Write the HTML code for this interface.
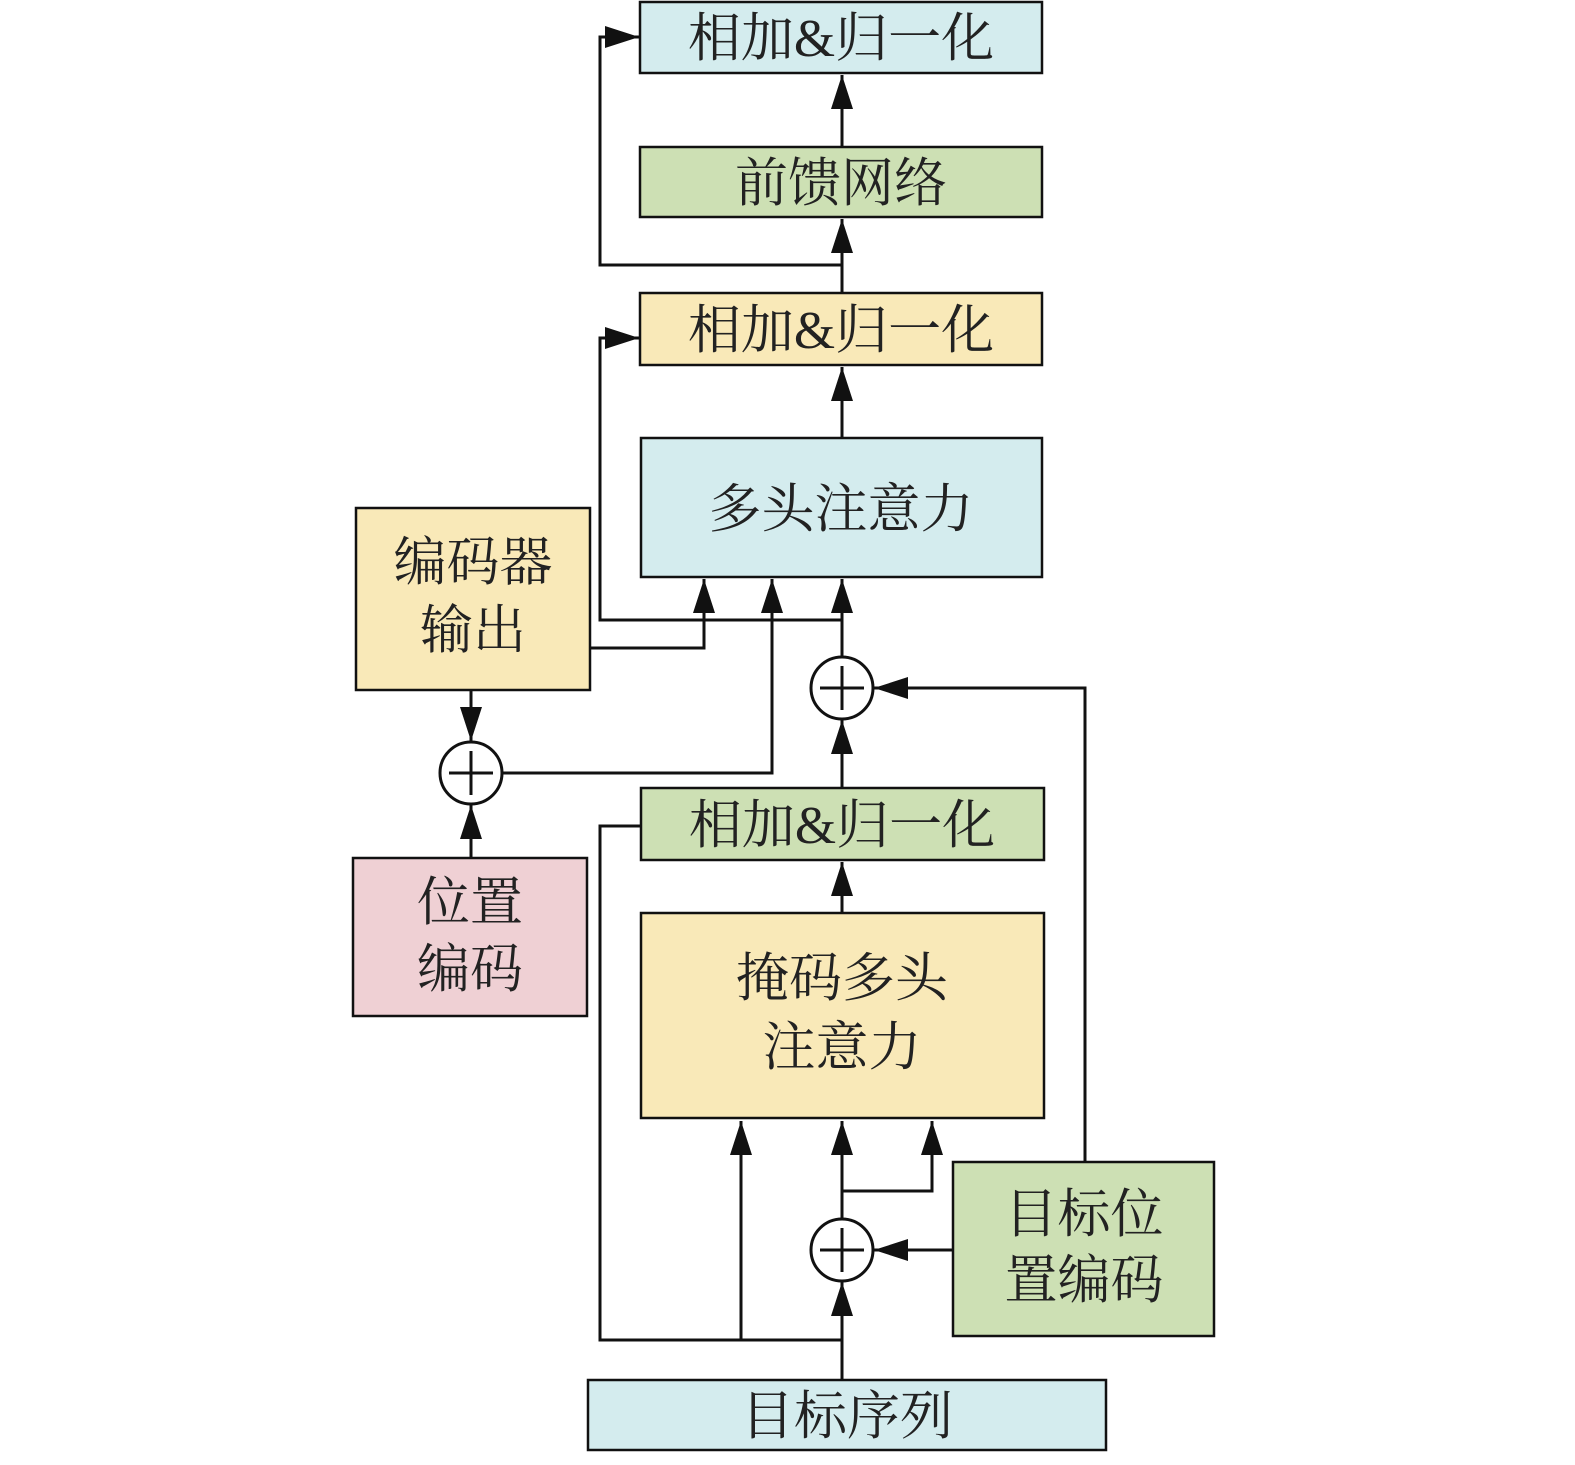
<!DOCTYPE html>
<html><head><meta charset="utf-8"><style>
html,body{margin:0;padding:0;background:#fff}
svg text{font-family:"Liberation Serif","Noto Serif CJK SC",serif;fill:#222;text-anchor:middle}
</style></head><body>
<svg width="1575" height="1460" viewBox="0 0 1575 1460" xmlns="http://www.w3.org/2000/svg">
<defs>
<marker id="a" markerUnits="userSpaceOnUse" markerWidth="36" markerHeight="24" refX="34" refY="11" orient="auto">
<path d="M0,0 L34,11 L0,22 Z" fill="#111"/>
</marker>
</defs>
<g stroke="#111" stroke-width="2.5">
<rect x="640" y="2" width="402" height="71" fill="#d4ecee"/>
<rect x="640" y="147" width="402" height="70" fill="#cde0b4"/>
<rect x="640" y="293" width="402" height="72" fill="#f9e9b8"/>
<rect x="641" y="438" width="401" height="139" fill="#d4ecee"/>
<rect x="356" y="508" width="234" height="182" fill="#f9e9b8"/>
<rect x="353" y="858" width="234" height="158" fill="#efd0d4"/>
<rect x="641" y="788" width="403" height="72" fill="#cde0b4"/>
<rect x="641" y="913" width="403" height="205" fill="#f9e9b8"/>
<rect x="953" y="1162" width="261" height="174" fill="#cde0b4"/>
<rect x="588" y="1380" width="518" height="70" fill="#d4ecee"/>
</g>
<g stroke="#111" stroke-width="3" fill="none">
<line x1="842" y1="1380" x2="842" y2="1282" marker-end="url(#a)"/>
<polyline points="842,1340 600,1340 600,826 641,826"/>
<line x1="741" y1="1340" x2="741" y2="1121" marker-end="url(#a)"/>
<line x1="842" y1="1219" x2="842" y2="1121" marker-end="url(#a)"/>
<polyline points="842,1191 932,1191 932,1121" marker-end="url(#a)"/>
<line x1="953" y1="1250" x2="874" y2="1250" marker-end="url(#a)"/>
<polyline points="1085,1162 1085,688 874,688" marker-end="url(#a)"/>
<line x1="842" y1="913" x2="842" y2="862" marker-end="url(#a)"/>
<line x1="842" y1="788" x2="842" y2="720" marker-end="url(#a)"/>
<line x1="842" y1="657" x2="842" y2="579" marker-end="url(#a)"/>
<polyline points="842,620 600,620 600,338 639,338" marker-end="url(#a)"/>
<polyline points="590,648 704,648 704,579" marker-end="url(#a)"/>
<polyline points="502,773 772,773 772,579" marker-end="url(#a)"/>
<line x1="471" y1="690" x2="471" y2="741" marker-end="url(#a)"/>
<line x1="471" y1="858" x2="471" y2="805" marker-end="url(#a)"/>
<line x1="842" y1="438" x2="842" y2="367" marker-end="url(#a)"/>
<line x1="842" y1="293" x2="842" y2="219" marker-end="url(#a)"/>
<polyline points="842,265 600,265 600,37 639,37" marker-end="url(#a)"/>
<line x1="842" y1="147" x2="842" y2="75" marker-end="url(#a)"/>
</g>
<g stroke="#111" stroke-width="3" fill="#fff">
<circle cx="842" cy="688" r="31"/>
<circle cx="471" cy="773" r="31"/>
<circle cx="842" cy="1250" r="31"/>
</g>
<g stroke="#111" stroke-width="3">
<line x1="820" y1="688" x2="864" y2="688"/><line x1="842" y1="666" x2="842" y2="710"/>
<line x1="449" y1="773" x2="493" y2="773"/><line x1="471" y1="751" x2="471" y2="795"/>
<line x1="820" y1="1250" x2="864" y2="1250"/><line x1="842" y1="1228" x2="842" y2="1272"/>
</g>
<g font-size="53">
<text x="841" y="56">相加&amp;归一化</text>
<text x="841" y="201">前馈网络</text>
<text x="841" y="348">相加&amp;归一化</text>
<text x="841" y="527">多头注意力</text>
<text x="473" y="580">编码器</text>
<text x="473" y="648">输出</text>
<text x="470" y="920">位置</text>
<text x="470" y="987">编码</text>
<text x="842" y="843">相加&amp;归一化</text>
<text x="842" y="996">掩码多头</text>
<text x="842" y="1065">注意力</text>
<text x="1084" y="1232">目标位</text>
<text x="1084" y="1298">置编码</text>
<text x="847" y="1434">目标序列</text>
</g>
</svg>
</body></html>
